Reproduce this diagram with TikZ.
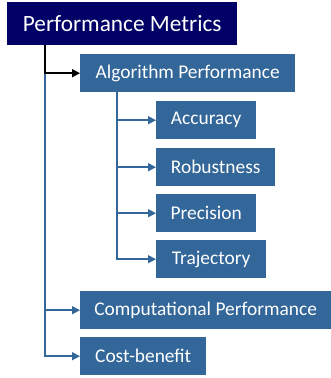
\documentclass[tikz,border=0pt]{standalone}
\usepackage{fontspec}
\setmainfont{Carlito}
\usetikzlibrary{arrows.meta}
\definecolor{boxblue}{RGB}{51,102,153}
\definecolor{navy}{RGB}{0,0,102}
\begin{document}
\begin{tikzpicture}[x=1pt,y=-1pt,
  rootbox/.style={fill=navy,text=white,anchor=north west,inner sep=0pt,
    font=\fontsize{23.3}{28}\selectfont},
  itembox/.style={fill=boxblue,text=white,anchor=north west,inner sep=0pt,
    minimum height=38pt,font=\fontsize{19.4}{23}\selectfont},
  link/.style={draw=boxblue,line width=1.5pt,-{Triangle[length=8pt,width=8pt]}},
  rootlink/.style={draw=black,line width=1.5pt,-{Triangle[length=8pt,width=8pt]}}]
\useasboundingbox (0,0) rectangle (331,378);

% top level
\node[rootbox,minimum width=230pt,minimum height=43pt] (pm) at (7,2) {Performance Metrics};

% first level
\node[itembox,minimum width=215pt] (alg) at (80,54) {Algorithm Performance};
\node[itembox,minimum width=251pt] (comp) at (80,291) {Computational Performance};
\node[itembox,minimum width=126pt] (cost) at (80,337) {Cost-benefit};

% second level
\node[itembox,minimum width=100pt] (acc) at (156,101) {Accuracy};
\node[itembox,minimum width=119pt] (rob) at (156,148) {Robustness};
\node[itembox,minimum width=100pt] (pre) at (156,194) {Precision};
\node[itembox,minimum width=110pt] (tra) at (156,240) {Trajectory};

% trunk lines
\coordinate (trunk) at (45,0);
\coordinate (sub) at (117,0);
\draw[link] (trunk |- pm.south) |- (cost.west);
\draw[link] (trunk |- comp.west) -- (comp.west);
\draw[rootlink] (trunk |- pm.south) |- (alg.west);

\draw[link] (sub |- alg.south) |- (tra.west);
\draw[link] (sub |- acc.west) -- (acc.west);
\draw[link] (sub |- rob.west) -- (rob.west);
\draw[link] (sub |- pre.west) -- (pre.west);
\end{tikzpicture}
\end{document}
